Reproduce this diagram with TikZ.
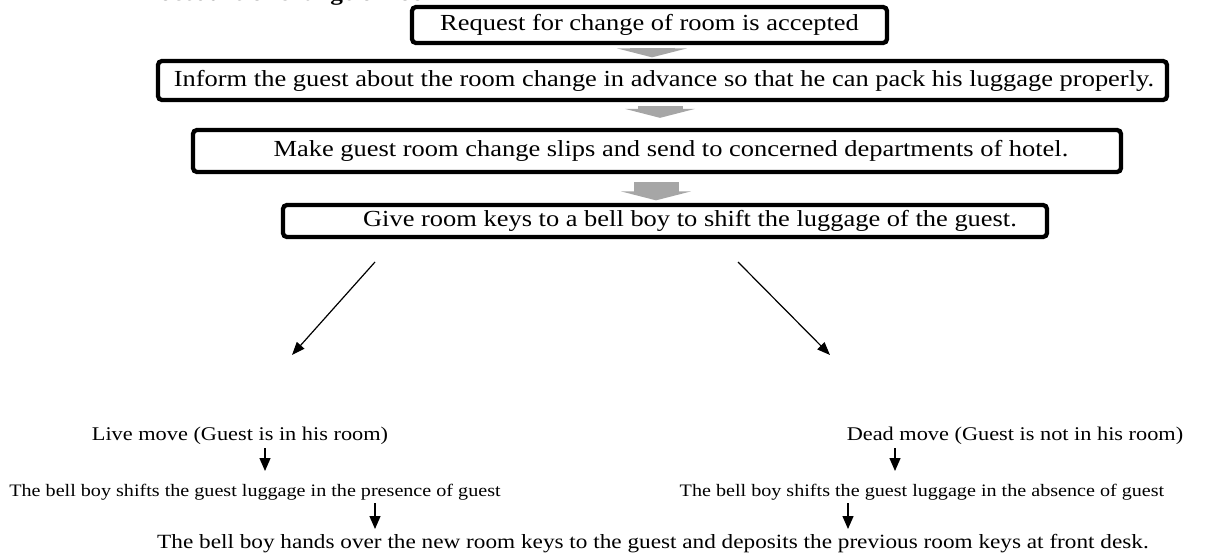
\documentclass[tikz,border=0pt]{standalone}
\usepackage{fontspec}
\setmainfont[FakeStretch=1.15]{Liberation Serif}
\usetikzlibrary{arrows.meta,calc}
\definecolor{arrowgray}{HTML}{A6A6A6}
\begin{document}
\begin{tikzpicture}[x=1pt,y=-1pt,
  box/.style={draw=black,line width=4.3pt,rounded corners=4pt,inner sep=0pt,
    fill=white,font=\fontsize{23}{27}\selectfont},
  garrow/.style={draw=arrowgray,line width=45pt,
    -{Triangle[width=70pt,length=9pt,fill=arrowgray]}},
  thinarrow/.style={draw=black,line width=1.2pt,-{Triangle[length=13pt,width=10pt]}},
  smallarrow/.style={draw=black,line width=1.3pt,-{Triangle[length=13pt,width=11pt]}},
  lbl/.style={inner sep=0pt,anchor=base},
  bigtxt/.style={font=\fontsize{19.4}{23}\selectfont},
  midtxt/.style={font=\fontsize{17.5}{21}\selectfont},
  bottxt/.style={font=\fontsize{20.2}{24}\selectfont}]
\useasboundingbox (0,0) rectangle (1210,554);
% clipped title
\node[inner sep=0pt,anchor=base west,font=\fontsize{22}{26}\selectfont\bfseries] (title) at (133,1) {Procedure of change of room};
% boxes
\node[box,minimum width=475,minimum height=36] (b1) at (649.5,25) {Request for change of room is accepted};
\node[box,minimum width=1009,minimum height=39] (b2) at (662.5,80.5) {\hspace*{3pt}Inform the guest about the room change in advance so that he can pack his luggage properly.};
\node[box,minimum width=928,minimum height=42] (b3) at (657,151) {\hspace*{28pt}Make guest room change slips and send to concerned departments of hotel.};
\node[box,minimum width=764,minimum height=32] (b4) at (665,221) {\hspace*{50pt}Give room keys to a bell boy to shift the luggage of the guest.};
% gray block arrows
\draw[garrow] ($(b1.south)+(2.5,2.5)$) -- ($(b2.north)+(-10.5,-1.5)$);
\draw[garrow] ($(b2.south)+(-2.5,4)$) -- ($(b3.north)+(3,-10)$);
\draw[garrow] ($(b3.south)+(-1,8)$) -- ($(b4.north)+(-9,-2.5)$);
% bottom labels
\node[lbl,bigtxt] (live) at (240,440) {Live move (Guest is in his room)};
\node[lbl,bigtxt] (dead) at (1015,440) {Dead move (Guest is not in his room)};
\node[lbl,midtxt] (pres) at (255,496) {The bell boy shifts the guest luggage in the presence of guest};
\node[lbl,midtxt] (abs) at (922,496) {The bell boy shifts the guest luggage in the absence of guest};
\node[lbl,bottxt] (final) at (653,548) {The bell boy hands over the new room keys to the guest and deposits the previous room keys at front desk.};
% diagonal arrows
\coordinate (dl) at (375,262);
\coordinate (dr) at (738,262);
\coordinate (dle) at (292,355);
\coordinate (dre) at (830,355);
\draw[thinarrow] (dl) -- (dle);
\draw[thinarrow] (dr) -- (dre);
% small arrows
\coordinate (s1) at (265,448); \coordinate (e1) at (265,471);
\coordinate (s2) at (895,448); \coordinate (e2) at (895,471);
\coordinate (s3) at (375,503); \coordinate (e3) at (375,529);
\coordinate (s4) at (848,503); \coordinate (e4) at (848,529);
\draw[smallarrow] (s1) -- (e1);
\draw[smallarrow] (s2) -- (e2);
\draw[smallarrow] (s3) -- (e3);
\draw[smallarrow] (s4) -- (e4);
\end{tikzpicture}
\end{document}
